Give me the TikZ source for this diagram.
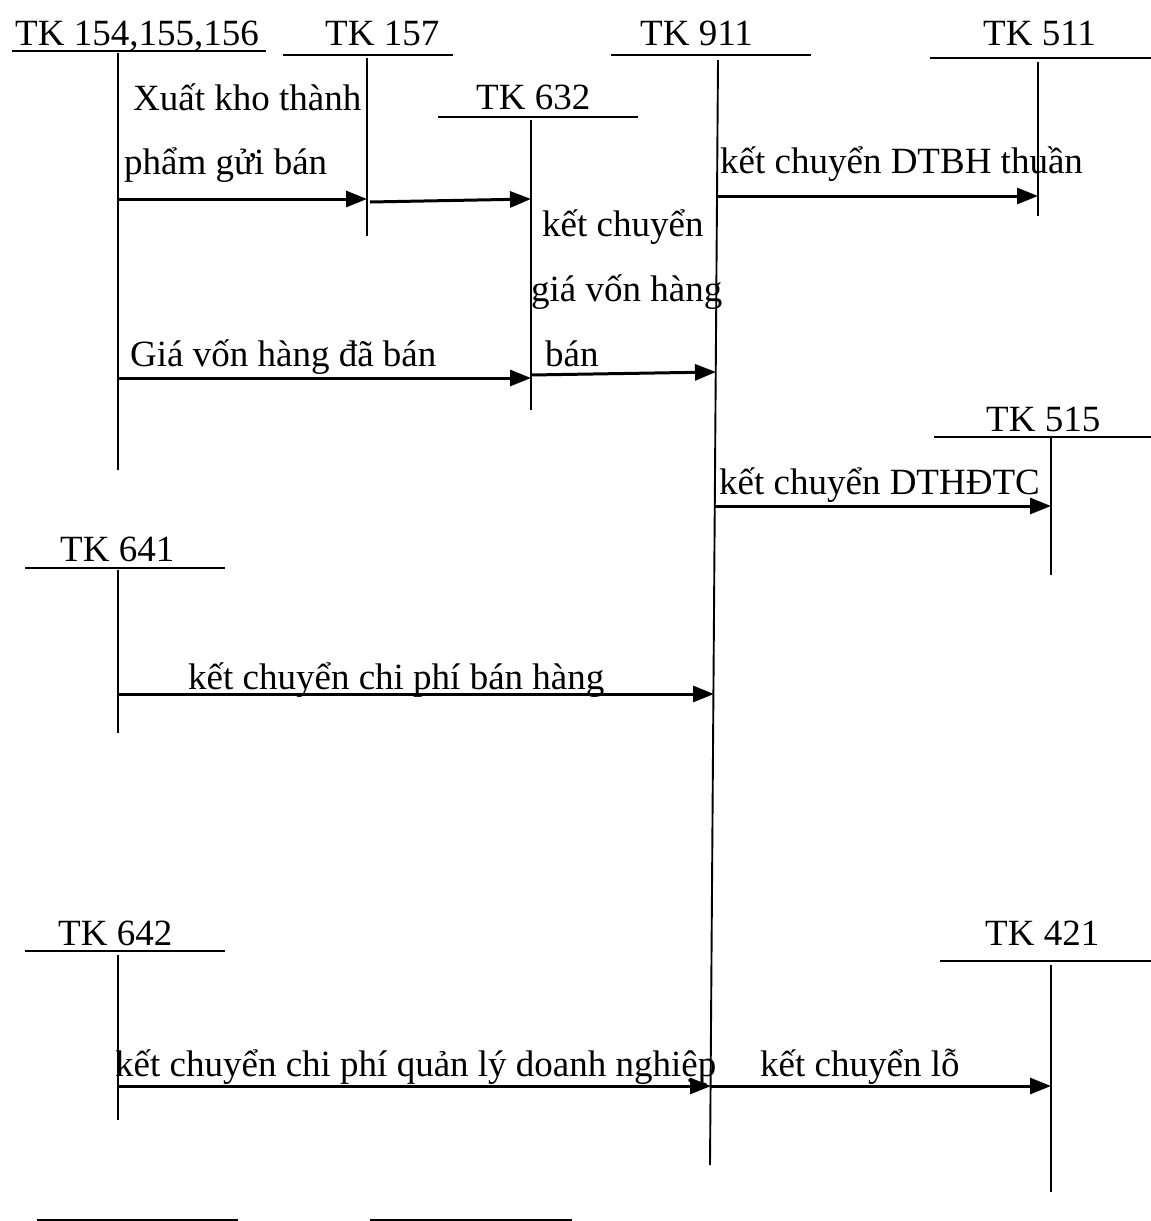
\documentclass[tikz,border=0pt]{standalone}
\usepackage{fontspec}
\setmainfont{Liberation Serif}
\usetikzlibrary{arrows.meta}
\begin{document}
\begin{tikzpicture}[x=1pt,y=-1pt,
  lbl/.style={inner sep=0pt, anchor=base west, font=\fontsize{37}{44}\selectfont},
  hbar/.style={line width=2.6pt},
  vbar/.style={line width=1.9pt},
  flow/.style={line width=3pt, -{Triangle[length=21pt,width=16pt]}}]
\useasboundingbox (0,0) rectangle (1151,1221);
% ---- account titles
\node[lbl] (l154) at (15,45) {TK 154,155,156};
\node[lbl] (l157) at (325,45) {TK 157};
\node[lbl] (l911) at (640,45) {TK 911};
\node[lbl] (l511) at (983,45) {TK 511};
\node[lbl] (l632) at (476,109) {TK 632};
\node[lbl] (l515) at (986,431) {TK 515};
\node[lbl] (l641) at (60,561) {TK 641};
\node[lbl] (l642) at (58,945) {TK 642};
\node[lbl] (l421) at (985,945) {TK 421};
% ---- horizontal bars of the T accounts
\draw[hbar] (12,51) -- (266,51);
\draw[hbar] (283,55) -- (453,55);
\draw[hbar] (611,55) -- (811,55);
\draw[hbar] (930,58) -- (1151,58);
\draw[hbar] (438,117) -- (638,117);
\draw[hbar] (934,437) -- (1151,437);
\draw[hbar] (25,568) -- (225,568);
\draw[hbar] (25,951) -- (225,951);
\draw[hbar] (940,961) -- (1151,961);
\draw[hbar] (37,1220) -- (238,1220);
\draw[hbar] (370,1220) -- (572,1220);
% ---- vertical lines
\coordinate (t154) at (118,53);   \coordinate (b154) at (118,470);
\coordinate (t157) at (367,58);   \coordinate (b157) at (367,236);
\coordinate (t632) at (531,120);  \coordinate (b632) at (531,410);
\coordinate (t911) at (718,60);   \coordinate (b911) at (710,1165);
\coordinate (t511) at (1038,62);  \coordinate (b511) at (1038,216);
\coordinate (t515) at (1051,438); \coordinate (b515) at (1051,575);
\coordinate (t641) at (118,570);  \coordinate (b641) at (118,733);
\coordinate (t642) at (118,955);  \coordinate (b642) at (118,1120);
\coordinate (t421) at (1051,965); \coordinate (b421) at (1051,1192);
\foreach \a in {154,157,632,911,511,515,641,642,421}
  \draw[vbar] (t\a) -- (b\a);
% ---- connector end points
\coordinate (p154a) at (118,199);  \coordinate (p157a) at (367,199);
\coordinate (p157b) at (370,202);  \coordinate (p632a) at (531,199);
\coordinate (p154b) at (118,378);  \coordinate (p632b) at (531,378);
\coordinate (p632c) at (531,375);  \coordinate (p911a) at (716,372);
\coordinate (p911b) at (717,196);  \coordinate (p511a) at (1038,196);
\coordinate (p911c) at (715,506);  \coordinate (p515a) at (1051,506);
\coordinate (p641a) at (118,694);  \coordinate (p911d) at (714,694);
\coordinate (p642a) at (118,1086); \coordinate (p911e) at (711,1086);
\coordinate (p421a) at (1051,1086);
% ---- flows
\draw[flow] (p154a) -- (p157a);
\draw[flow] (p157b) -- (p632a);
\draw[flow] (p154b) -- (p632b);
\draw[flow] (p632c) -- (p911a);
\draw[flow] (p911b) -- (p511a);
\draw[flow] (p911c) -- (p515a);
\draw[flow] (p641a) -- (p911d);
\draw[flow] (p642a) -- (p911e);
\draw[flow] (p911e) -- (p421a);
% ---- flow labels
\node[lbl] (x1) at (133,110) {Xuất kho thành};
\node[lbl] (x2) at (124,174) {phẩm gửi bán};
\node[lbl] (g1) at (130,366) {Giá vốn hàng đã bán};
\node[lbl] (k1) at (542,236) {kết chuyển};
\node[lbl] (k2) at (531,301) {giá vốn hàng};
\node[lbl] (k3) at (545,366) {bán};
\node[lbl] (d1) at (720,173) {kết chuyển DTBH thuần};
\node[lbl] (d2) at (719,494) {kết chuyển DTHĐTC};
\node[lbl] (c1) at (188,689) {kết chuyển chi phí bán hàng};
\node[lbl] (c2) at (115,1076) {kết chuyển chi phí quản lý doanh nghiệp};
\node[lbl] (c3) at (760,1076) {kết chuyển lỗ};
\end{tikzpicture}
\end{document}
